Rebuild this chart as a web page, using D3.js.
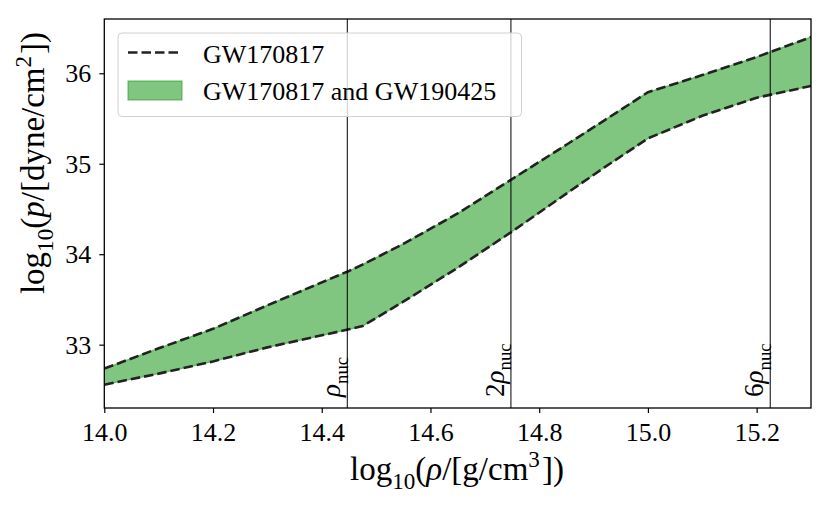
<!DOCTYPE html>
<html>
<head>
<meta charset="utf-8">
<script src="https://cdn.jsdelivr.net/npm/d3@7"></script>
<style>
  body { margin: 0; background: #fff; }
  svg text { font-family: "Liberation Serif", "DejaVu Serif", serif; fill: #000; }
</style>
</head>
<body>
<svg id="chart" width="830" height="513"></svg>
<script>
// log10 density grid and the pressure band
var rhoGrid = [14.0, 14.1, 14.2, 14.3, 14.45, 14.475, 14.55, 14.65, 14.75, 14.85, 14.92, 15.0, 15.1, 15.2, 15.3];
var pUpper = [32.735, 32.96, 33.175, 33.435, 33.815, 33.885, 34.114, 34.45, 34.83, 35.21, 35.48, 35.79, 35.98, 36.18, 36.40];
var pLower = [32.558, 32.68, 32.815, 32.97, 33.17, 33.205, 33.475, 33.85, 34.25, 34.67, 34.96, 35.28, 35.53, 35.73, 35.86];

var xTicks = [14.0, 14.2, 14.4, 14.6, 14.8, 15.0, 15.2];
var yTicks = [33, 34, 35, 36];

// nuclear saturation density multiples
var refRho = [14.447, 14.748, 15.225];
var refPrefix = ["", "2", "6"];

var legendLabels = ["GW170817", "GW170817 and GW190425"];

var svg = d3.select("#chart");

var x = d3.scaleLinear().domain([14.0, 15.3]).range([104.3, 811]);
var y = d3.scaleLinear().domain([32.3, 36.6]).range([408, 19]);

var band = rhoGrid.map(function (r, i) { return {rho: r, lo: pLower[i], hi: pUpper[i]}; });

svg.append("defs")
  .append("clipPath")
  .attr("id", "plotclip")
  .append("rect")
  .attr("x", x.range()[0])
  .attr("y", y.range()[1])
  .attr("width", x.range()[1] - x.range()[0])
  .attr("height", y.range()[0] - y.range()[1]);

var plot = svg.append("g").attr("clip-path", "url(#plotclip)");

plot.append("path")
  .datum(band)
  .attr("d", d3.area()
    .x(function (d) { return x(d.rho); })
    .y0(function (d) { return y(d.lo); })
    .y1(function (d) { return y(d.hi); }))
  .attr("fill", "#2ca02c")
  .attr("fill-opacity", 0.6)
  .attr("stroke", "#2ca02c")
  .attr("stroke-opacity", 0.6)
  .attr("stroke-width", 1.2);

["hi", "lo"].forEach(function (key) {
  plot.append("path")
    .datum(band)
    .attr("d", d3.line()
      .x(function (d) { return x(d.rho); })
      .y(function (d) { return y(d[key]); }))
    .attr("fill", "none")
    .attr("stroke", "#222")
    .attr("stroke-width", 2.6)
    .attr("stroke-dasharray", "9.5,4");
});

plot.selectAll(".refline")
  .data(refRho)
  .enter()
  .append("line")
  .classed("refline", true)
  .attr("x1", function (d) { return x(d); })
  .attr("x2", function (d) { return x(d); })
  .attr("y1", y.range()[1])
  .attr("y2", y.range()[0])
  .attr("stroke", "#000")
  .attr("stroke-width", 1);

// writes a run of pieces into a text node, handling sub/superscripts and italics
function mathText(sel, parts, size) {
  var shift = 0;
  parts.forEach(function (p) {
    var target = 0;
    if (p.sub) { target = 0.28 * size; }
    if (p.sup) { target = -0.4 * size; }
    sel.append("tspan")
      .attr("dy", target - shift)
      .attr("dx", p.gap || 0)
      .attr("font-size", (p.sub || p.sup) ? size * 0.7 : size)
      .attr("font-style", p.it ? "italic" : "normal")
      .text(p.t);
    shift = target;
  });
}

var rhoLabelSize = 27;
svg.selectAll(".reflabel")
  .data(refRho)
  .enter()
  .append("text")
  .classed("reflabel", true)
  .attr("transform", function (d) { return "translate(" + (x(d) - 7) + ",397) rotate(-90)"; })
  .each(function (d, i) {
    mathText(d3.select(this), [{t: refPrefix[i]}, {t: "ρ", it: true}, {t: "nuc", sub: true}], rhoLabelSize);
  });

var xAxis = svg.append("g")
  .attr("transform", "translate(0," + y.range()[0] + ")")
  .call(d3.axisBottom(x).tickValues(xTicks).tickFormat(d3.format(".1f")).tickSize(5).tickSizeOuter(0).tickPadding(10));

var yAxis = svg.append("g")
  .attr("transform", "translate(" + x.range()[0] + ",0)")
  .call(d3.axisLeft(y).tickValues(yTicks).tickFormat(d3.format("d")).tickSize(5).tickSizeOuter(0).tickPadding(8));

[xAxis, yAxis].forEach(function (ax) {
  ax.select(".domain").remove();
  ax.selectAll(".tick line").attr("stroke", "#000").attr("stroke-width", 1.2);
  ax.selectAll(".tick text")
    .style("font-family", "'Liberation Serif', 'DejaVu Serif', serif")
    .attr("font-size", 26)
    .attr("fill", "#000");
});

svg.append("rect")
  .attr("x", x.range()[0])
  .attr("y", y.range()[1])
  .attr("width", x.range()[1] - x.range()[0])
  .attr("height", y.range()[0] - y.range()[1])
  .attr("fill", "none")
  .attr("stroke", "#000")
  .attr("stroke-width", 1.3);

var labelSize = 33;
svg.append("text")
  .attr("x", 457)
  .attr("y", 480)
  .attr("text-anchor", "middle")
  .call(function (sel) {
    mathText(sel, [{t: "log"}, {t: "10", sub: true}, {t: "("}, {t: "ρ", it: true}, {t: "/[g/cm"}, {t: "3", sup: true}, {t: "])", gap: 2}], labelSize);
  });

svg.append("text")
  .attr("transform", "translate(44,163) rotate(-90)")
  .attr("text-anchor", "middle")
  .call(function (sel) {
    mathText(sel, [{t: "log"}, {t: "10", sub: true}, {t: "("}, {t: "p", it: true}, {t: "/[dyne/cm"}, {t: "2", sup: true}, {t: "])", gap: 2}], labelSize);
  });

// legend
var legend = svg.append("g");

legend.append("rect")
  .attr("x", 118)
  .attr("y", 33)
  .attr("width", 403.5)
  .attr("height", 83.5)
  .attr("rx", 4)
  .attr("fill", "#fff")
  .attr("fill-opacity", 0.8)
  .attr("stroke", "#d0d0d0")
  .attr("stroke-width", 1);

legend.append("line")
  .attr("x1", 128)
  .attr("x2", 181)
  .attr("y1", 52.5)
  .attr("y2", 52.5)
  .attr("stroke", "#222")
  .attr("stroke-width", 2.6)
  .attr("stroke-dasharray", "9.5,4");

legend.append("rect")
  .attr("x", 128)
  .attr("y", 81)
  .attr("width", 54)
  .attr("height", 19)
  .attr("fill", "#2ca02c")
  .attr("fill-opacity", 0.6)
  .attr("stroke", "#2ca02c")
  .attr("stroke-opacity", 0.6)
  .attr("stroke-width", 1.2);

legend.selectAll(".legend-label")
  .data(legendLabels)
  .enter()
  .append("text")
  .classed("legend-label", true)
  .attr("x", 203)
  .attr("y", function (d, i) { return 62.5 + i * 37.5; })
  .attr("font-size", 26)
  .text(function (d) { return d; });
</script>
</body>
</html>
